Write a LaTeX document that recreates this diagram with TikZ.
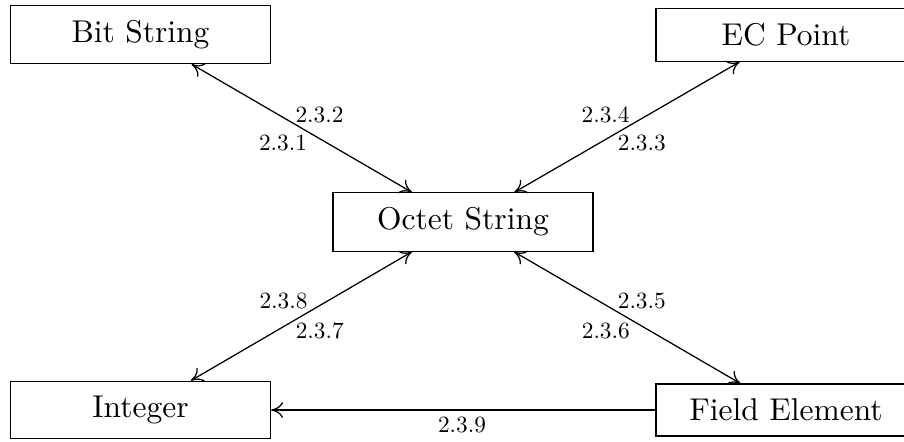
\documentclass[tikz,border=0pt]{standalone}
\usepackage{graphicx}
\usetikzlibrary{arrows.meta}
\begin{document}
\begin{tikzpicture}[x=0.3175pt,y=-0.3175pt,
  >={To[length=3.8pt,width=5pt]},
  box/.style={draw, minimum width=82.5pt, inner xsep=4pt, inner ysep=4.7pt, font=\normalsize},
  lbl/.style={inner sep=0pt},
  conn/.style={<->},
  oneway/.style={->}]
\useasboundingbox (0,0) rectangle (904,441);
\node[box] (bs) at (140.5,34.5) {Bit String};
\node[box] (ec) at (786,35) {EC Point};
\node[box] (os) at (463,222) {Octet String};
\node[box] (in) at (140.5,410) {Integer};
\node[box] (fe) at (786,410) {Field Element};
\draw[conn] (bs) -- (os);
\draw[conn] (ec) -- (os);
\draw[conn] (in) -- (os);
\draw[conn] (fe) -- (os);
\draw[oneway] (fe) -- (in);
\node[lbl] (l231) at (283,143) {\scalebox{0.74}{2.3.1}};
\node[lbl] (l232) at (319.5,114.5) {\scalebox{0.74}{2.3.2}};
\node[lbl] (l233) at (641.8,143) {\scalebox{0.74}{2.3.3}};
\node[lbl] (l234) at (605.6,114.7) {\scalebox{0.74}{2.3.4}};
\node[lbl] (l235) at (641.8,301) {\scalebox{0.74}{2.3.5}};
\node[lbl] (l236) at (605.8,331) {\scalebox{0.74}{2.3.6}};
\node[lbl] (l237) at (319.8,331) {\scalebox{0.74}{2.3.7}};
\node[lbl] (l238) at (283.5,301) {\scalebox{0.74}{2.3.8}};
\node[lbl] (l239) at (462,425) {\scalebox{0.74}{2.3.9}};
\end{tikzpicture}
\end{document}
